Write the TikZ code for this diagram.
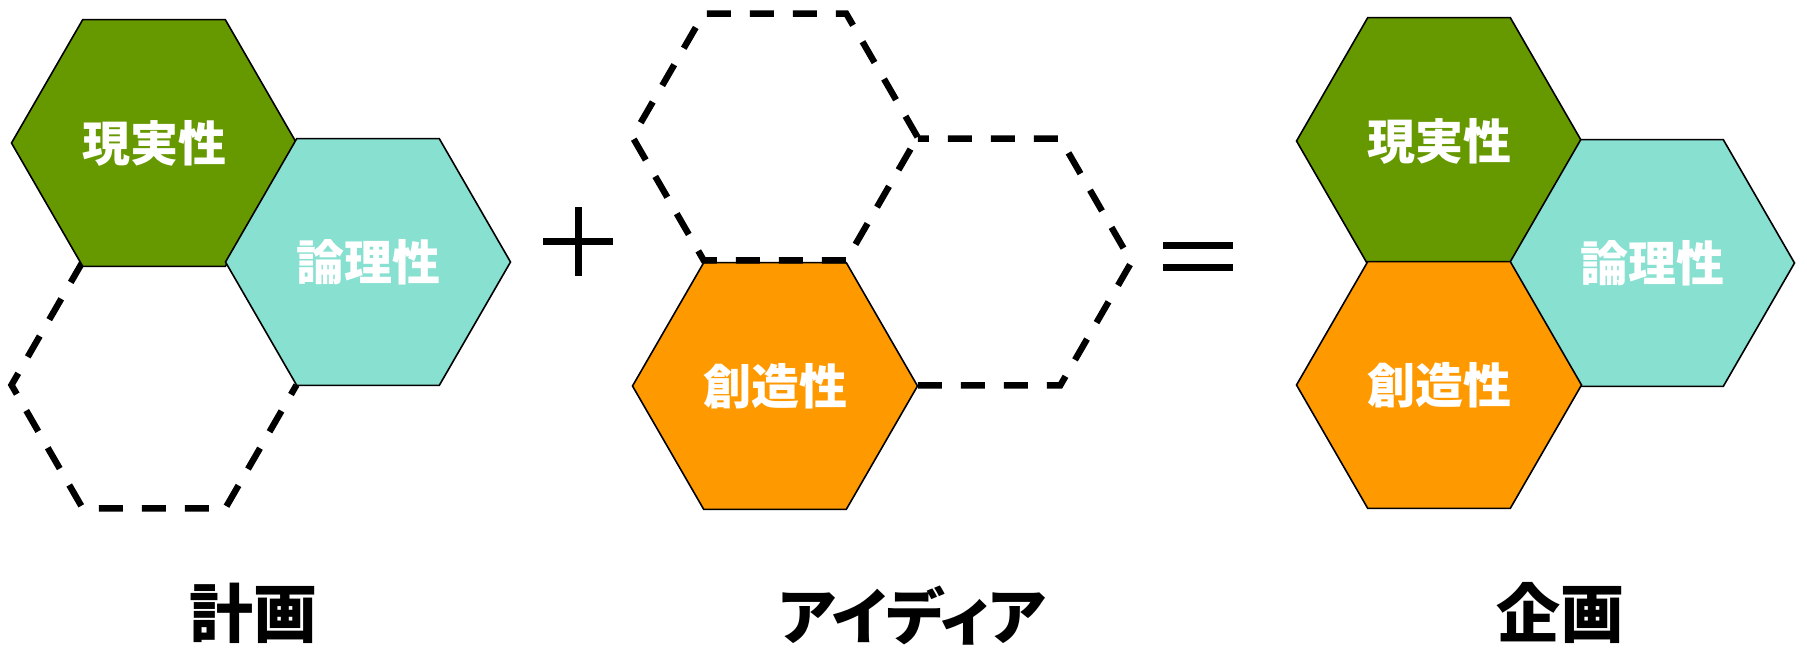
\documentclass[tikz,border=0pt]{standalone}
\usepackage{fontspec}
\setmainfont{Noto Sans CJK JP}
\newfontfamily\cjkp[RawFeature=+palt]{Noto Sans CJK JP}
\definecolor{hexgreen}{HTML}{669900}
\definecolor{hexcyan}{HTML}{88E0D1}
\definecolor{hexorange}{HTML}{FF9900}
\begin{document}
\begin{tikzpicture}[x=0.5pt,y=-0.5pt,
  hexfill/.style={draw=black,line width=0.8pt,line join=miter},
  hexdash/.style={draw=black,line width=3.2pt,dash pattern=on 12pt off 9.5pt},
  hexlabel/.style={text=white,font=\bfseries\fontsize{24}{28}\selectfont,inner sep=0pt},
  biglabel/.style={text=black,font=\bfseries\fontsize{32}{36}\selectfont,inner sep=0pt},
  opline/.style={draw=black,line width=3.5pt},
  pics/hexa/.style={code={\path[pic actions] (0:142.5) -- (60:142.5) -- (120:142.5) -- (180:142.5) -- (240:142.5) -- (300:142.5) -- cycle;}}
]
\useasboundingbox (0,0) rectangle (1807,647);

% ---------- left group ----------
\coordinate (LG) at (154,143);
\coordinate (LC) at (368,262);
\coordinate (LD) at (154,385);
\draw[hexdash] ([shift={(-71.25,-123.4)}]LD) -- ([shift={(-142.5,0)}]LD) -- ([shift={(-71.25,123.4)}]LD) -- ([shift={(71.25,123.4)}]LD) -- ([shift={(142.5,0)}]LD);
\pic[hexfill,fill=hexgreen] at (LG) {hexa};
\pic[hexfill,fill=hexcyan] at (LC) {hexa};
\node[hexlabel] (lgText) at (LG) {現実性};
\node[hexlabel] (lcText) at (LC) {論理性};

% ---------- plus ----------
\coordinate (p1) at (543,241);
\coordinate (p2) at (613,241);
\coordinate (p3) at (578,207);
\coordinate (p4) at (578,276);
\draw[opline] (p1) -- (p2);
\draw[opline] (p3) -- (p4);

% ---------- middle group ----------
\coordinate (MT) at (775,137);
\coordinate (MO) at (775,386);
\coordinate (MR) at (989,262);
\draw[hexdash] ([shift={(-71.25,123.4)}]MR) -- ([shift={(71.25,123.4)}]MR) -- ([shift={(142.5,0)}]MR) -- ([shift={(71.25,-123.4)}]MR) -- ([shift={(-71.25,-123.4)}]MR);
\pic[hexfill,fill=hexorange] at (MO) {hexa};
\draw[hexdash] ([shift={(142.5,0)}]MT) -- ([shift={(71.25,-123.4)}]MT) -- ([shift={(-71.25,-123.4)}]MT) -- ([shift={(-142.5,0)}]MT) -- ([shift={(-71.25,123.4)}]MT) -- ([shift={(71.25,123.4)}]MT) -- cycle;
\node[hexlabel] (moText) at (MO) {創造性};

% ---------- equals ----------
\coordinate (e1) at (1163,245);
\coordinate (e2) at (1233,245);
\coordinate (e3) at (1163,267);
\coordinate (e4) at (1233,267);
\draw[opline] (e1) -- (e2);
\draw[opline] (e3) -- (e4);

% ---------- right group ----------
\coordinate (RG) at (1439,141);
\coordinate (RO) at (1439,385);
\coordinate (RC) at (1652,263);
\pic[hexfill,fill=hexgreen] at (RG) {hexa};
\pic[hexfill,fill=hexcyan] at (RC) {hexa};
\pic[hexfill,fill=hexorange] at (RO) {hexa};
\node[hexlabel] (rgText) at (RG) {現実性};
\node[hexlabel] (rcText) at (RC) {論理性};
\node[hexlabel] (roText) at (RO) {創造性};

% ---------- captions ----------
\node[biglabel] (keikaku) at (253,613) {計画};
\node[biglabel,font=\bfseries\fontsize{30.5}{34}\selectfont] (idea) at (912,616) {\cjkp アイディア};
\node[biglabel] (kikaku) at (1560,613) {企画};
\end{tikzpicture}
\end{document}
